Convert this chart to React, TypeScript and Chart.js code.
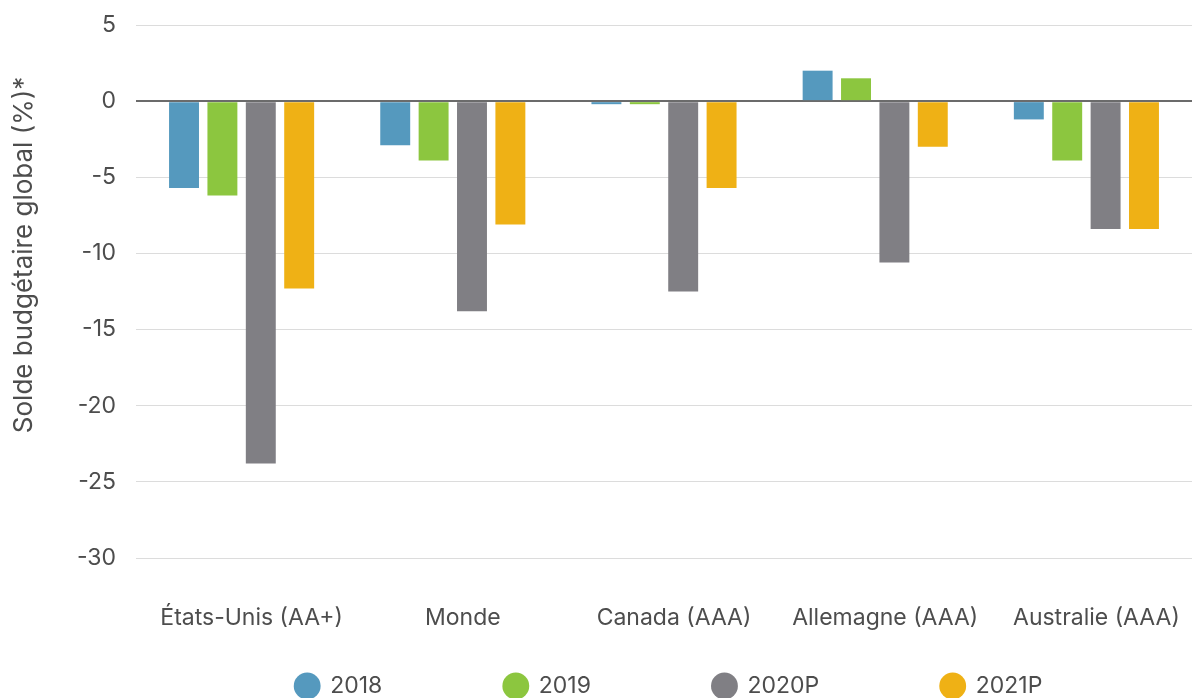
import React, { useEffect, useRef } from "react";
import { Chart, registerables } from "chart.js";

Chart.register(...registerables);

// Catégories et séries (solde budgétaire global, % du PIB)
const categories = ["États-Unis (AA+)", "Monde", "Canada (AAA)", "Allemagne (AAA)", "Australie (AAA)"];
const seriesNames = ["2018", "2019", "2020P", "2021P"];
const values2018 = [-5.7, -2.9, -0.2, 2.0, -1.2];
const values2019 = [-6.2, -3.9, -0.2, 1.5, -3.9];
const values2020P = [-23.8, -13.8, -12.5, -10.6, -8.4];
const values2021P = [-12.3, -8.1, -5.7, -3.0, -8.4];
const seriesColors = ["#5599be", "#8cc63f", "#807f84", "#efb115"];

const yMin = -30;
const yMax = 5;
const yStep = 5;
const yTitle = "Solde budgétaire global (%)*";

const FONT = "Inter, 'Noto Sans', sans-serif";
const TEXT = "#4d4d4d";
const LEGEND_CENTER_Y = 686;

// Titre vertical de l'axe Y, placé librement le long de l'axe
const yTitlePlugin = {
  id: "yTitle",
  afterDraw(chart: any) {
    const ctx = chart.ctx;
    ctx.save();
    ctx.translate(24, 255);
    ctx.rotate(-Math.PI / 2);
    ctx.font = `26px ${FONT}`;
    ctx.fillStyle = TEXT;
    ctx.textAlign = "center";
    ctx.textBaseline = "middle";
    ctx.fillText(yTitle, 0, 0);
    ctx.restore();
  },
};

// Légende centrée sous la zone de tracé
const legendPlacement = {
  id: "legendPlacement",
  afterLayout(chart: any) {
    const lg = chart.legend;
    if (!lg) return;
    const pad = lg.options.labels.padding;
    const fs = lg.options.labels.font.size;
    lg.left = chart.chartArea.left + 10;
    lg.right = chart.chartArea.right;
    lg.top = LEGEND_CENTER_Y - pad - fs / 2;
  },
};

export default function App() {
  const canvasRef = useRef<HTMLCanvasElement | null>(null);

  useEffect(() => {
    if (!canvasRef.current) return;
    const data = [values2018, values2019, values2020P, values2021P];
    const chart = new Chart(canvasRef.current, {
      type: "bar",
      data: {
        labels: categories,
        datasets: seriesNames.map((name, i) => ({
          label: name,
          data: data[i],
          backgroundColor: seriesColors[i],
          borderWidth: 0,
          categoryPercentage: 0.727,
          barPercentage: 0.78,
        })),
      },
      options: {
        animation: false,
        responsive: false,
        devicePixelRatio: 1,
        layout: { padding: { top: 25, left: 0, right: 0, bottom: 0 } },
        plugins: {
          tooltip: { enabled: false },
          legend: {
            position: "bottom",
            maxHeight: 78,
            labels: {
              usePointStyle: true,
              pointStyle: "circle",
              boxWidth: 23,
              boxHeight: 19,
              padding: 122,
              color: TEXT,
              font: { family: FONT, size: 23 },
            },
          },
        },
        scales: {
          x: {
            grid: { display: false, drawTicks: false },
            border: { display: false },
            ticks: {
              color: TEXT,
              padding: 46,
              labelOffset: 10,
              font: { family: FONT, size: 23 },
              maxRotation: 0,
              autoSkip: false,
            },
            afterFit: (s: any) => {
              s.height = 74;
              s.paddingLeft = 0;
              s.paddingRight = 0;
            },
          },
          y: {
            min: yMin,
            max: yMax,
            border: { display: false },
            grid: {
              drawTicks: false,
              color: (c: any) => (c.tick && c.tick.value === 0 ? "#6b6b6b" : "#dcdcdc"),
              lineWidth: (c: any) => (c.tick && c.tick.value === 0 ? 2 : 1),
            },
            ticks: {
              stepSize: yStep,
              color: TEXT,
              padding: 20,
              font: { family: FONT, size: 23 },
            },
            afterFit: (s: any) => {
              s.width = 136;
              s.paddingTop = 0;
              s.paddingBottom = 0;
            },
          },
        },
      },
      plugins: [yTitlePlugin, legendPlacement],
    });
    return () => chart.destroy();
  }, []);

  return (
    <div
      style={{
        position: "absolute",
        left: 0,
        top: 0,
        width: 1192,
        height: 698,
        overflow: "hidden",
        background: "#ffffff",
      }}
    >
      <canvas ref={canvasRef} width={1192} height={710} style={{ display: "block" }} />
    </div>
  );
}
